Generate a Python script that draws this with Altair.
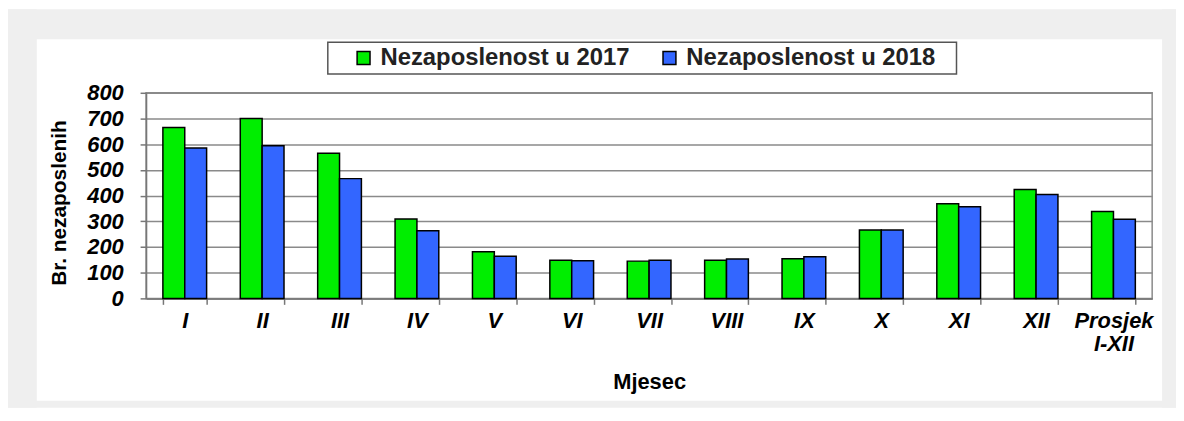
import altair as alt
import pandas as pd

months = ["I", "II", "III", "IV", "V", "VI", "VII", "VIII", "IX", "X", "XI", "XII", "Prosjek I-XII"]
v2017 = [665, 700, 565, 309, 181, 148, 145, 148, 154, 266, 368, 424, 338]
v2018 = [585, 594, 466, 263, 164, 146, 148, 153, 162, 266, 357, 404, 308]
series = ["Nezaposlenost u 2017", "Nezaposlenost u 2018"]
colors = ["#00ee00", "#3366ff"]
y_ticks = [0, 100, 200, 300, 400, 500, 600, 700, 800]

rows = []
for m, a, b in zip(months, v2017, v2018):
    rows.append({"Mjesec": m, "Serija": series[0], "Vrijednost": a})
    rows.append({"Mjesec": m, "Serija": series[1], "Vrijednost": b})
df = pd.DataFrame(rows)

W, H = 1013, 207
FONT = "Liberation Sans"
GRAY = "#efefef"

one = pd.DataFrame({"k": [0]})


def strip(x, x2, y, y2):
    return alt.Chart(one).mark_rect(color=GRAY).encode(
        x=alt.value(x), x2=alt.value(x2), y=alt.value(y), y2=alt.value(y2)
    )


# grey page border around the white panel
frame = [
    strip(-139, -110, -84, H + 110),
    strip(W + 10, W + 24, -84, H + 110),
    strip(-139, W + 24, -84, -54),
    strip(-139, W + 24, H + 103, H + 110),
]

legend_box = alt.Chart(one).mark_rect(
    fill="white", stroke="#555555", strokeWidth=1.5
).encode(
    x=alt.value(183), x2=alt.value(816), y=alt.value(-51), y2=alt.value(-19)
)

label_expr = "datum.label == 'Prosjek I-XII' ? ['Prosjek', 'I-XII'] : datum.label"

bars = alt.Chart(df).mark_bar(stroke="black", strokeWidth=1.5).encode(
    x=alt.X(
        "Mjesec:N",
        sort=months,
        scale=alt.Scale(paddingInner=0.435, paddingOuter=0.2175),
        axis=alt.Axis(
            title="Mjesec",
            labelAngle=0,
            labelExpr=label_expr,
            labelFont=FONT,
            labelFontSize=22,
            labelFontWeight="bold",
            labelFontStyle="italic",
            labelColor="black",
            labelPadding=6,
            labelLineHeight=23,
            labelBaseline="top",
            tickBand="extent",
            tickSize=6,
            tickColor="#777777",
            tickWidth=1.5,
            domainColor="#777777",
            domainWidth=1.5,
            grid=False,
            titleFont=FONT,
            titleFontSize=22,
            titleFontWeight="bold",
            titleColor="black",
            titleY=84,
            titleBaseline="middle",
        ),
    ),
    xOffset=alt.XOffset("Serija:N", sort=series),
    y=alt.Y(
        "Vrijednost:Q",
        scale=alt.Scale(domain=[0, 800], nice=False),
        axis=alt.Axis(
            title="Br. nezaposlenih",
            values=y_ticks,
            labelFont=FONT,
            labelFontSize=22,
            labelFontWeight="bold",
            labelFontStyle="italic",
            labelColor="black",
            labelPadding=17,
            tickSize=6,
            tickColor="#777777",
            tickWidth=1.5,
            domainColor="#777777",
            domainWidth=1.5,
            grid=True,
            gridColor="#8a8a8a",
            gridWidth=1.5,
            titleFont=FONT,
            titleFontSize=21,
            titleFontWeight="bold",
            titleColor="black",
            titleX=-87,
            titleY=H / 2 + 7,
            titleAngle=-90,
            titleAlign="center",
            titleBaseline="middle",
        ),
    ),
    color=alt.Color(
        "Serija:N",
        sort=series,
        scale=alt.Scale(domain=series, range=colors),
        legend=alt.Legend(
            title=None,
            orient="none",
            direction="horizontal",
            legendX=207,
            legendY=-47,
            padding=0,
            symbolType="square",
            symbolSize=169,
            symbolStrokeColor="black",
            symbolStrokeWidth=1.5,
            symbolOpacity=1,
            labelFont=FONT,
            labelFontSize=24,
            labelFontWeight="bold",
            labelColor="#222222",
            labelOffset=5,
            labelLimit=400,
            columnPadding=28,
        ),
    ),
)

chart = alt.layer(*frame, legend_box, bars).properties(
    width=W,
    height=H,
    background="white",
    autosize="none",
    padding={"left": 139, "top": 84, "right": 24, "bottom": 110},
).configure_view(stroke="#8a8a8a", strokeWidth=1.5)

chart.save("out.html", embed_options={"renderer": "svg", "actions": False})
